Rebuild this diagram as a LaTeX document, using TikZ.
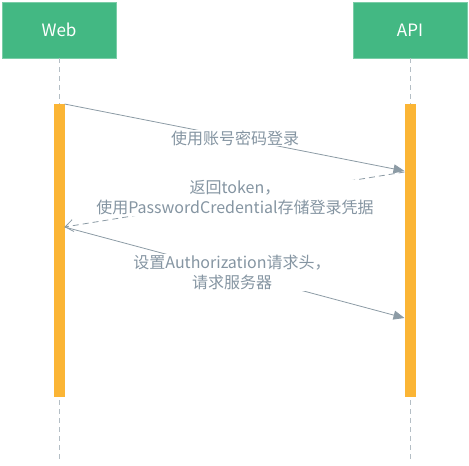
\documentclass[tikz,border=0pt]{standalone}
\usepackage{fontspec}
\setmainfont{Noto Sans CJK SC}
\usetikzlibrary{arrows.meta}
\definecolor{boxgreen}{HTML}{43B883}
\definecolor{bar}{HTML}{FBB535}
\definecolor{linegrey}{HTML}{8C9BA5}
\definecolor{txtgrey}{HTML}{8595A2}
\definecolor{lifeg}{HTML}{B4BEC5}
\tikzset{
  actor/.style={fill=boxgreen, draw=boxgreen!70!white, line width=0.8pt, minimum width=114pt, minimum height=56pt, inner sep=0pt, text=white, font=\fontsize{17}{20}\selectfont},
  actbar/.style={fill=bar, draw=none, minimum width=11pt, minimum height=293pt, inner sep=0pt},
  lifeline/.style={draw=lifeg, dashed, dash pattern=on 5pt off 4pt, line width=0.8pt},
  msg/.style={draw=linegrey, line width=0.8pt, -{Triangle[length=11pt,width=9pt]}},
  ret/.style={draw=linegrey, line width=0.8pt, dash pattern=on 6pt off 4pt, -{Straight Barb[length=8pt,width=12pt]}},
  lbl/.style={fill=white, text=txtgrey, inner sep=1pt, align=center, font=\fontsize{16}{20}\selectfont},
}
\begin{document}
\begin{tikzpicture}[x=1pt,y=-1pt]
\useasboundingbox (0,0) rectangle (469,466);
\node[actor] (web) at (59,30) {Web};
\node[actor] (api) at (410,30) {API};
\coordinate (webend) at (59,462);
\coordinate (apiend) at (410,462);
\draw[lifeline] (web.south) -- (webend);
\draw[lifeline] (api.south) -- (apiend);
\node[actbar] (wbar) at (59,250.5) {};
\node[actbar] (abar) at (410,250.5) {};
\coordinate (m1s) at (64.5,104);
\coordinate (m1e) at (404.5,171);
\coordinate (m2s) at (404.5,172);
\coordinate (m2e) at (64.5,227);
\coordinate (m3s) at (64.5,227);
\coordinate (m3e) at (404.5,318);
\draw[msg] (m1s) -- (m1e);
\draw[ret] (m2s) -- (m2e);
\draw[msg] (m3s) -- (m3e);
\node[lbl] (l1) at (235,138) {使用账号密码登录};
\node[lbl] (l2) at (235,198) {返回token，\\使用PasswordCredential存储登录凭据};
\node[lbl] (l3) at (232,272.5) {设置Authorization请求头，\\请求服务器};
\end{tikzpicture}
\end{document}
